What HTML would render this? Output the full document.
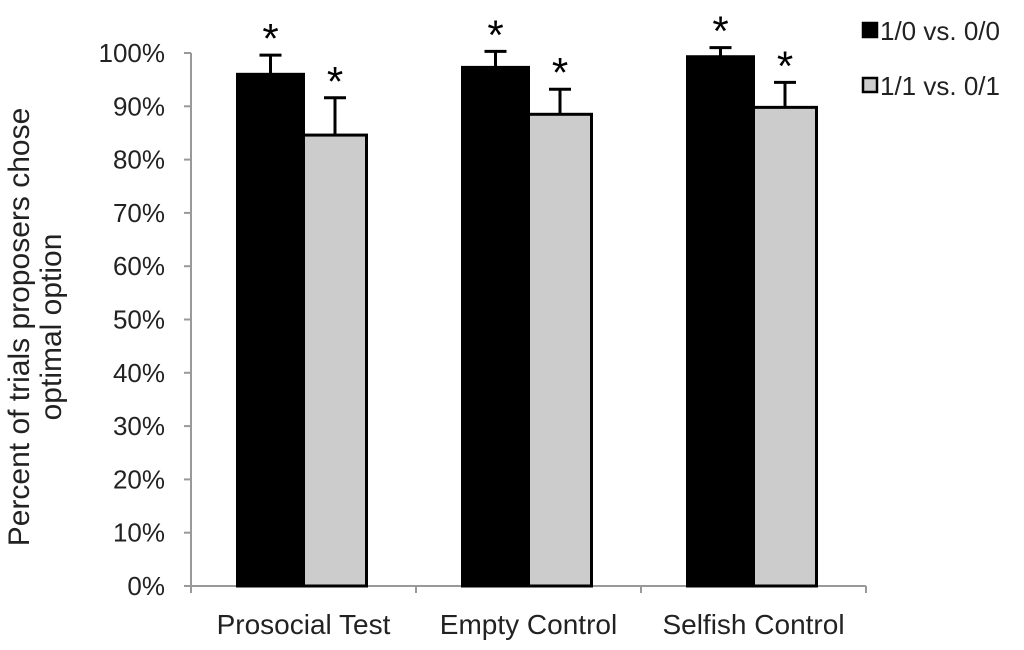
<!DOCTYPE html>
<html><head><meta charset="utf-8"><style>
body{margin:0;background:#fff;}
text{font-family:"Liberation Sans",Arial,sans-serif;}
</style></head><body>
<svg id="chart" width="1024" height="645" viewBox="0 0 1024 645" xmlns="http://www.w3.org/2000/svg"></svg>
<script>
const categories=["Prosocial Test","Empty Control","Selfish Control"];
const seriesNames=["1/0 vs. 0/0","1/1 vs. 0/1"];
const blackValues=[96.0,97.3,99.3];
const blackErrors=[3.6,3.0,1.7];
const greyValues=[84.6,88.5,89.8];
const greyErrors=[7.0,4.7,4.7];
const yTicks=[0,10,20,30,40,50,60,70,80,90,100];
const yTickLabels=["0%","10%","20%","30%","40%","50%","60%","70%","80%","90%","100%"];

const svg=document.getElementById('chart');
const NS="http://www.w3.org/2000/svg";
const x0=191,x1=866,y0=586,y100=53;
const y=v=>y0+(y100-y0)*v/100;
const gw=(x1-x0)/categories.length;
const gc=i=>x0+gw*(i+0.5);
function mk(t,a,p){const e=document.createElementNS(NS,t);for(const k in a)e.setAttribute(k,a[k]);(p||svg).appendChild(e);return e;}

const axes=mk('g',{});


mk('line',{x1:x0,y1:y100,x2:x0,y2:y0,stroke:'#999','stroke-width':2},axes);
mk('line',{x1:x0,y1:y0,x2:x1,y2:y0,stroke:'#999','stroke-width':2},axes);
yTicks.forEach((v,i)=>{
  mk('line',{x1:x0-7,y1:y(v),x2:x0,y2:y(v),stroke:'#999','stroke-width':2},axes);
  const t=mk('text',{x:165,y:y(v)+9,'text-anchor':'end','font-size':26,fill:'#222'},axes);
  
  
  t.textContent=yTickLabels[i];
});
for(let i=0;i<=categories.length;i++){
  mk('line',{x1:x0+gw*i,y1:y0,x2:x0+gw*i,y2:y0+7,stroke:'#999','stroke-width':2},axes);
}
categories.forEach((c,i)=>{
  const t=mk('text',{x:gc(i),y:634,'text-anchor':'middle','font-size':28,fill:'#222'},axes);
  
  
  t.textContent=c;
});
const yt=mk('text',{transform:'translate(29,327) rotate(-90)','text-anchor':'middle','font-size':30,fill:'#222'});


mk('tspan',{x:0,dy:0},yt).textContent="Percent of trials proposers chose";
mk('tspan',{x:0,dy:32},yt).textContent="optimal option";

function bar(i,v,err,black){
  const left=black?gc(i)-66:gc(i);
  const w=black?66:63;
  const r=mk('rect',{x:left,y:y(v),width:w,height:y0-y(v),fill:black?'#000':'#ccc',stroke:'#000','stroke-width':3});
  
  
  const cx=left+w/2;
  const eb=mk('g',{stroke:'#000','stroke-width':3});
  
  
  mk('line',{x1:cx,y1:y(v),x2:cx,y2:y(v+err)},eb);
  mk('line',{x1:cx-11,y1:y(v+err),x2:cx+11,y2:y(v+err)},eb);
  const s=mk('text',{x:cx,y:y(v+err)-2,'text-anchor':'middle','font-size':42,fill:'#000','font-family':'"DejaVu Sans",sans-serif','font-weight':'200'});
  
  
  s.textContent='*';
}
categories.forEach((c,i)=>{bar(i,blackValues[i],blackErrors[i],true);bar(i,greyValues[i],greyErrors[i],false);});

seriesNames.forEach((n,i)=>{
  const g=mk('g',{});
  
  
  const yy=22+i*55;
  mk('rect',{x:863,y:yy+1,width:14,height:14,fill:i?'#ccc':'#000',stroke:'#000','stroke-width':2.5},g);
  mk('text',{x:880,y:yy+18,'font-size':26,fill:'#222'},g).textContent=n;
});
</script>
</body></html>
